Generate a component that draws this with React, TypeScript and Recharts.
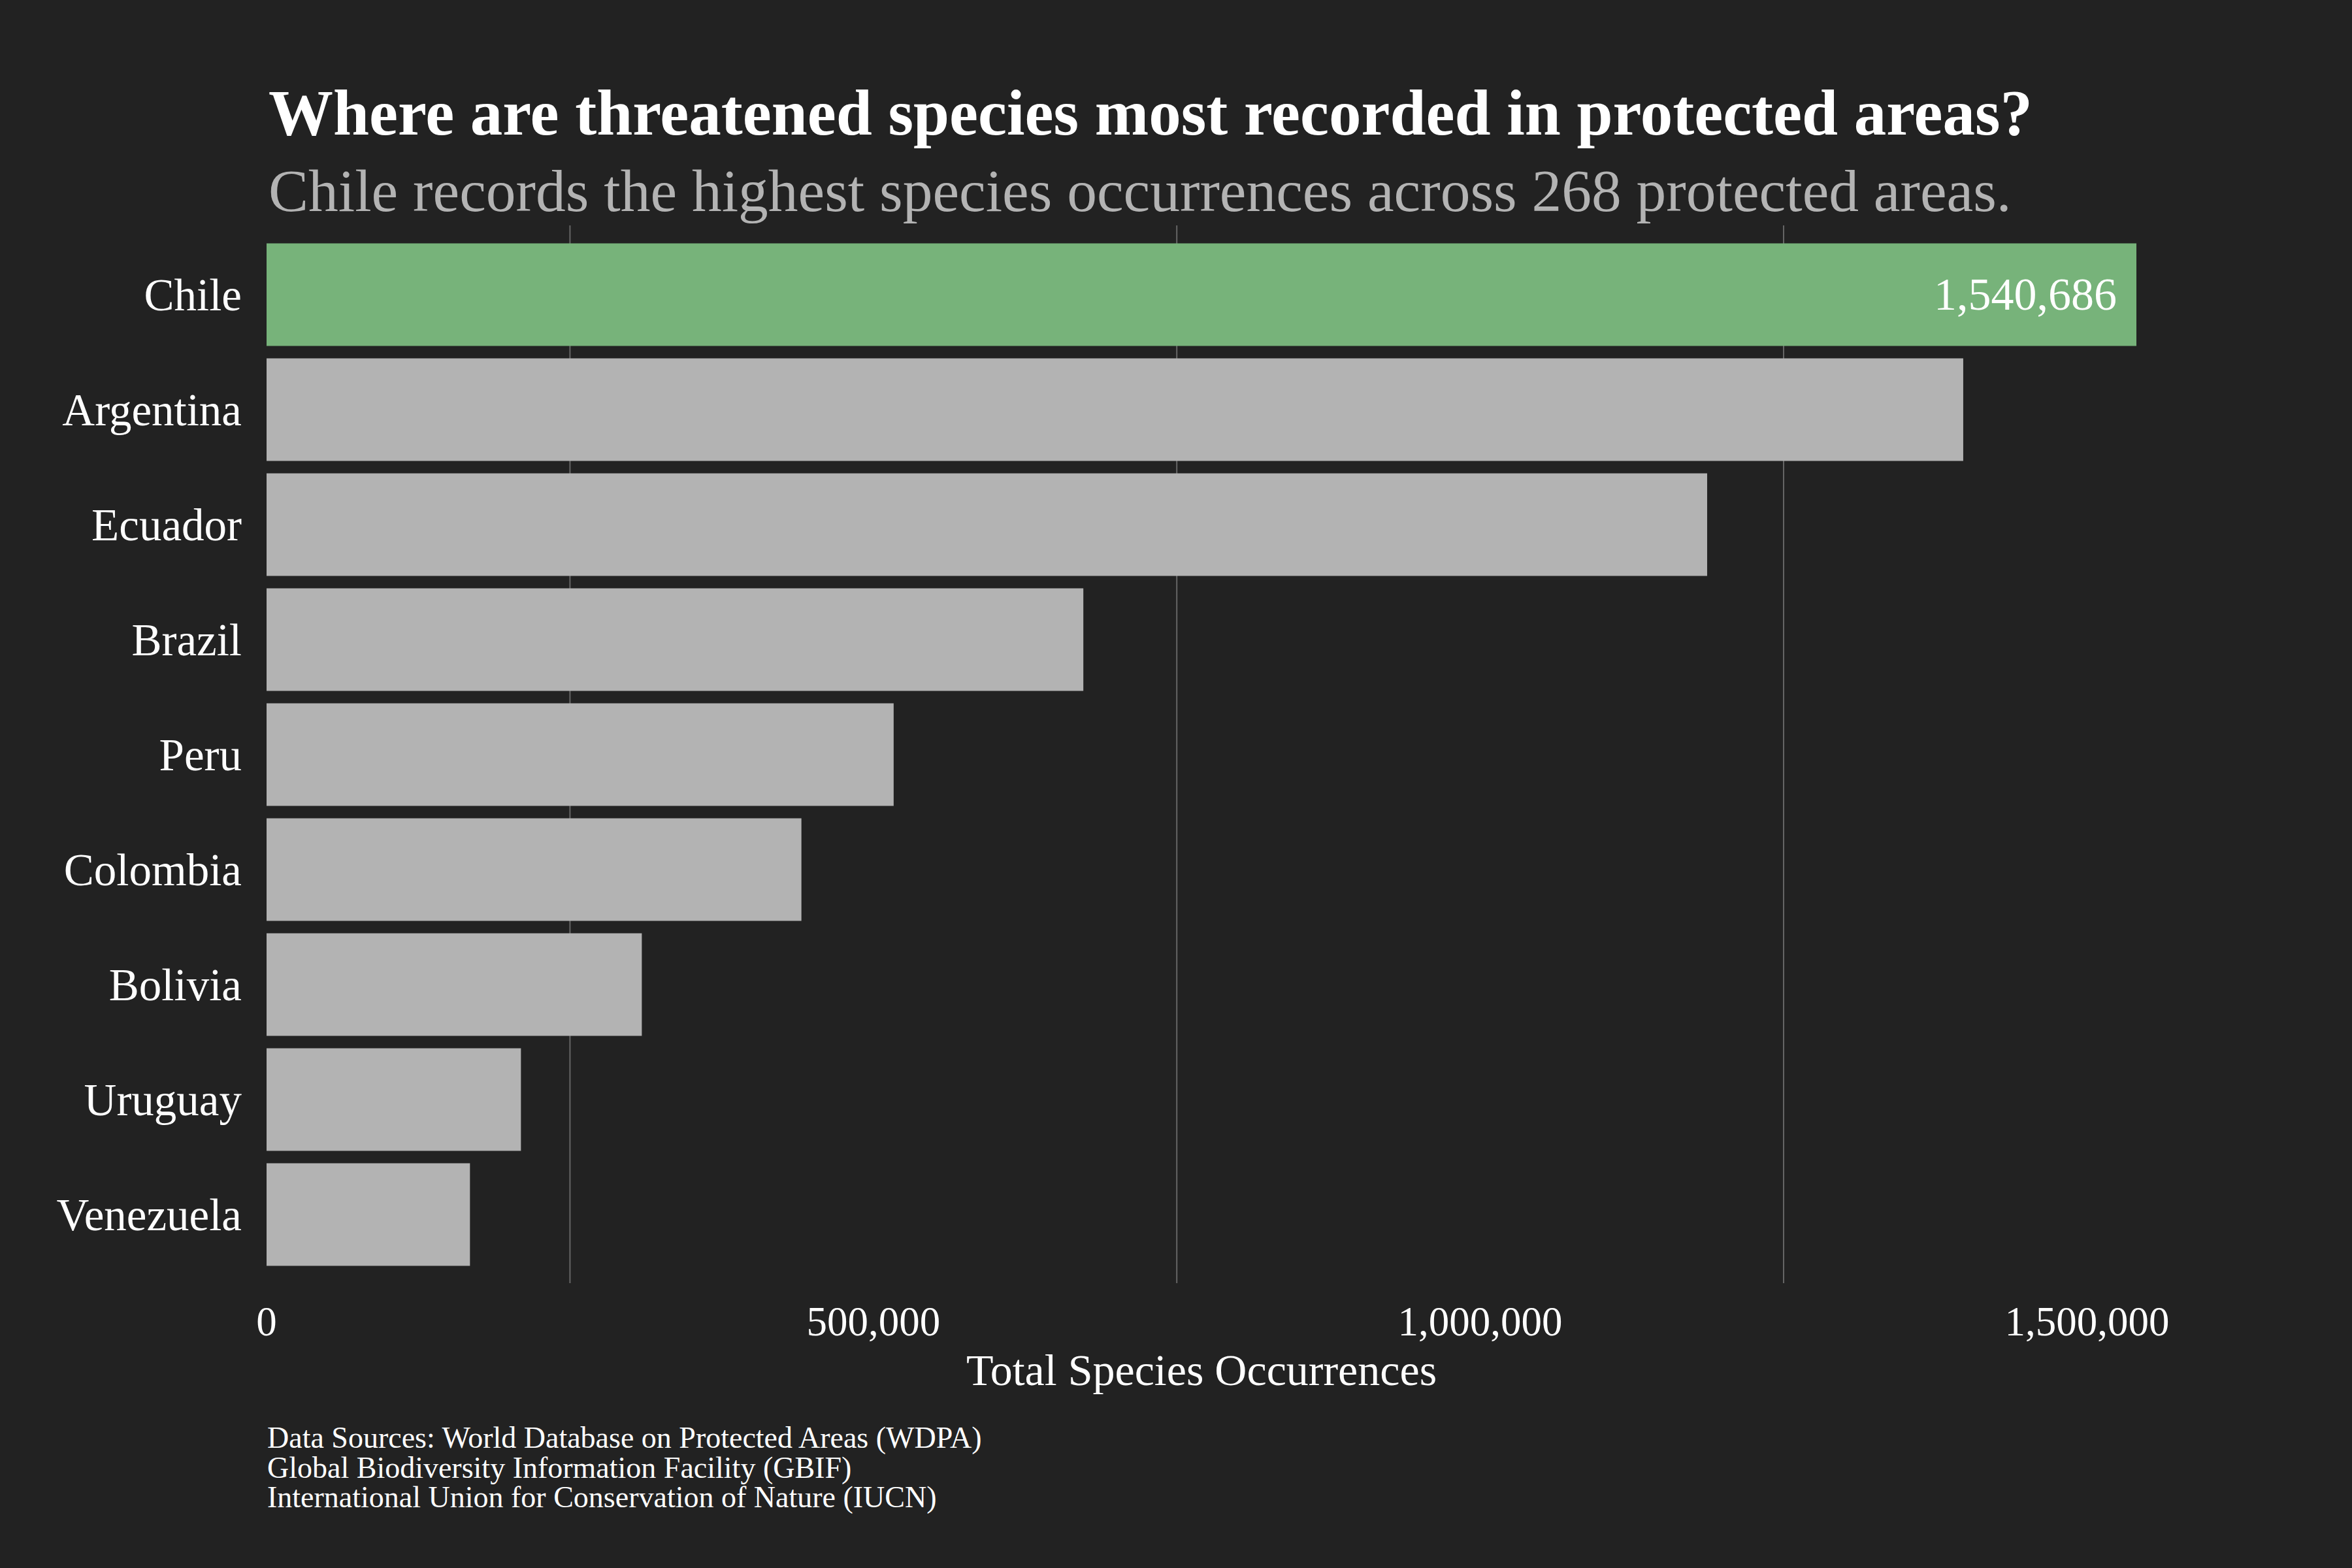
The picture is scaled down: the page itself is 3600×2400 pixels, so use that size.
import { Bar, BarChart, CartesianGrid, Cell, LabelList, XAxis, YAxis } from 'recharts';

const countries = ['Chile', 'Argentina', 'Ecuador', 'Brazil', 'Peru', 'Colombia', 'Bolivia', 'Uruguay', 'Venezuela'];
const occurrences = [1540686, 1398000, 1187000, 673000, 516700, 440700, 309200, 209600, 167600];
const xTicks = [0, 500000, 1000000, 1500000];
const gridValues = [250000, 750000, 1250000];
const captionLines = [
  'Data Sources: World Database on Protected Areas (WDPA)',
  'Global Biodiversity Information Facility (GBIF)',
  'International Union for Conservation of Nature (IUCN)',
];

const data = countries.map((country, i) => ({ country, value: occurrences[i] }));

const FONT = '"Liberation Serif", "Times New Roman", serif';
const BG = '#222222';
const GREEN = '#77b37a';
const GRAY = '#b3b3b3';

const fmt = (v: number) => v.toLocaleString('en-US');

const TopLabel = (props: any) => {
  const { x, y, width, height, index, value } = props;
  if (index !== 0) return null;
  return (
    <text
      x={x + width - 30}
      y={y + height / 2 + 23}
      textAnchor="end"
      fill="#ffffff"
      fontSize={70}
      fontFamily={FONT}
    >
      {fmt(value)}
    </text>
  );
};

const App = () => {
  return (
    <div style={{ position: 'absolute', left: 0, top: 0, width: 3600, height: 2400, background: BG, overflow: 'hidden' }}>
      <BarChart
        width={3600}
        height={2400}
        data={data}
        layout="vertical"
        margin={{ top: 345, right: 330, bottom: 336, left: 0 }}
        style={{ position: 'absolute', left: 0, top: 0 }}
      >
        <CartesianGrid horizontal={false} verticalValues={gridValues} stroke="#666666" strokeWidth={2} />
        <XAxis
          type="number"
          domain={[0, occurrences[0]]}
          ticks={xTicks}
          tickFormatter={fmt}
          axisLine={false}
          tickLine={false}
          tickSize={0}
          tickMargin={35}
          height={100}
          tick={{ fill: '#ffffff', fontSize: 63, fontFamily: FONT }}
        />
        <YAxis
          type="category"
          dataKey="country"
          width={408}
          axisLine={false}
          tickLine={false}
          tickSize={0}
          tickMargin={38}
          padding={{ top: 17.5, bottom: 17.5 }}
          tick={{ fill: '#ffffff', fontSize: 69, fontFamily: FONT }}
        />
        <Bar dataKey="value" barSize={157} isAnimationActive={false}>
          {data.map((d, i) => (
            <Cell key={d.country} fill={i === 0 ? GREEN : GRAY} />
          ))}
          <LabelList dataKey="value" content={TopLabel} />
        </Bar>
      </BarChart>
      <svg width={3600} height={2400} style={{ position: 'absolute', left: 0, top: 0, pointerEvents: 'none' }}>
        <text x={411} y={206} fill="#ffffff" fontSize={99} fontWeight="bold" fontFamily={FONT}>
          Where are threatened species most recorded in protected areas?
        </text>
        <text x={411} y={323} fill="#b3b3b3" fontSize={91.5} fontFamily={FONT}>
          Chile records the highest species occurrences across 268 protected areas.
        </text>
        <text x={1839} y={2120} textAnchor="middle" fill="#ffffff" fontSize={68} fontFamily={FONT}>
          Total Species Occurrences
        </text>
        {captionLines.map((line, i) => (
          <text key={line} x={409} y={2216 + i * 45.5} fill="#ffffff" fontSize={46} fontFamily={FONT}>
            {line}
          </text>
        ))}
      </svg>
    </div>
  );
};

export default App;
